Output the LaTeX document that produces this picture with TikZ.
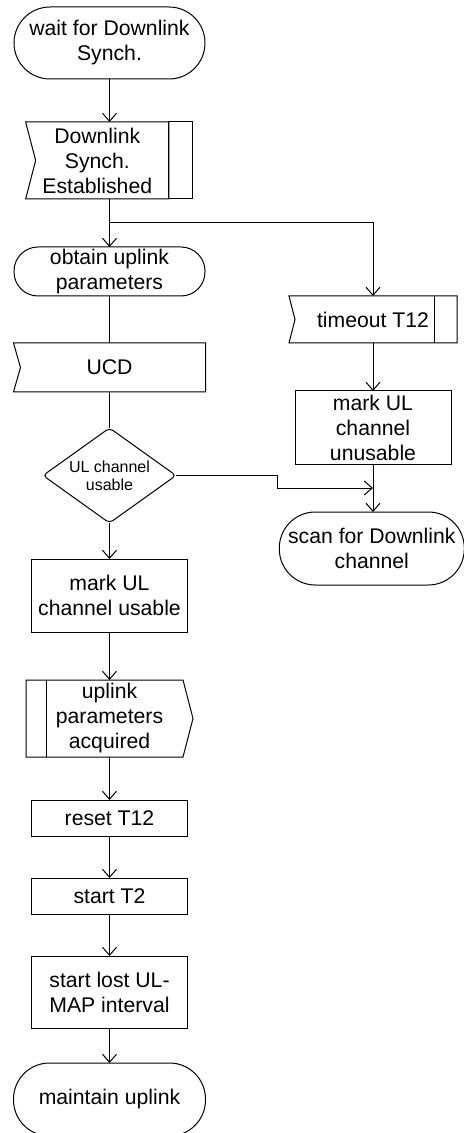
\documentclass[tikz,border=0pt]{standalone}
\usepackage{fontspec}
\setmainfont{Liberation Sans}
\usetikzlibrary{%
    arrows.meta,
    calc,
    positioning,
    shapes.geometric
}
\tikzset{flowarrow/.style = {-{Straight Barb[length=4pt,width=7pt]}}}
% outline of an input signal: notch cut into the west side
\newcommand\inputsig[2]{%
    \draw (#1.north west) -- (#1.north east) -- (#1.south east)
        -- (#1.south west) -- ($(#1.west)+(#2,0)$) -- cycle;}

\begin{document}
\begin{tikzpicture}[
    x=1pt, y=1pt, line width=.5pt,
    base/.style = {font=\fontsize{10.6}{12.5}\selectfont, align=center,
        inner sep=0pt, outer sep=0pt},
    terminal/.style = {base, draw, rounded corners=#1, minimum width=95.5pt},
    task/.style = {base, draw, minimum width=78pt},
    signal/.style = {base, minimum height=38.5pt},
    decision/.style = {base, draw, diamond, aspect=1.4, minimum width=66.5pt,
        minimum height=47.5pt, rounded corners=2pt,
        font=\fontsize{8}{9}\selectfont}]
    \useasboundingbox (0,0) rectangle (232,-566.5);

    % main column
    \node[terminal=18pt, minimum height=36pt] (wait) at (54.75,-21.5)
        {wait for Downlink\\Synch.};
    \node[signal, minimum width=71.65pt] (estab) [below=21.5pt of wait, xshift=-6.1pt]
        {Downlink\\Synch.\\Established};
    \node[terminal=12pt, minimum height=24.5pt] (obtain) [below=24pt of estab, xshift=6.1pt]
        {obtain uplink\\parameters};
    \node[signal, minimum width=96pt, minimum height=24.5pt] (ucd) [below=23.5pt of obtain] {UCD};
    \node[decision] (usable) [below=18pt of ucd] {UL channel\\usable};
    \node[task, minimum height=36.5pt] (markok) [below=18pt of usable] {mark UL\\channel usable};
    \node[signal, minimum width=83.5pt] (acquired) [below=24pt of markok]
        {uplink\\parameters\\acquired};
    \node[task, minimum height=18pt] (reset) [below=21.5pt of acquired] {reset T12};
    \node[task, minimum height=18pt] (startT) [below=21pt of reset] {start T2};
    \node[task, minimum height=36pt] (lostmap) [below=21pt of startT] {start lost UL-\\MAP interval};
    \node[terminal=18pt, minimum height=36.5pt, minimum width=96pt] (maintain) [below=17.5pt of lostmap]
        {maintain uplink};

    % timeout branch
    \node[signal, minimum width=84pt, minimum height=23.5pt] (timeout) at (186.5,-159.75) {timeout T12};
    \node[task, minimum height=36.5pt] (markbad) [below=24pt of timeout] {mark UL\\channel\\unusable};
    \node[terminal=18pt, minimum height=36.5pt, minimum width=92.5pt] (scan) [below=24pt of markbad, xshift=-.6pt]
        {scan for Downlink\\channel};

    % signal outlines
    \inputsig{estab}{5pt}
    \draw (estab.north east) rectangle ($(estab.south east)+(12pt,0)$);
    \inputsig{ucd}{3.5pt}
    \inputsig{timeout}{3pt}
    \draw ($(timeout.north east)-(11.5pt,0)$) -- ($(timeout.south east)-(11.5pt,0)$);
    \draw (acquired.north west) -- ($(acquired.north east)-(5pt,0)$) -- (acquired.east)
        -- ($(acquired.south east)-(5pt,0)$) -- (acquired.south west) -- cycle;
    \draw ($(acquired.north west)+(10pt,0)$) -- ($(acquired.south west)+(10pt,0)$);

    % connectors
    \coordinate (fork) at ($(obtain.north)+(0,12pt)$);
    \coordinate (merge) at ($(markbad.south)!.5!(markbad.south |- scan.north)$);
    \draw[flowarrow] (wait) -- (wait.south |- estab.north);
    \draw[flowarrow] (obtain.north |- estab.south) -- (obtain);
    \draw[flowarrow] (fork) -| (timeout);
    \draw (obtain) -- (ucd);
    \draw (ucd) -- (usable);
    \draw[flowarrow] (usable) -- (markok);
    \draw[flowarrow] (markok) -- (acquired);
    \draw[flowarrow] (acquired) -- (reset);
    \draw[flowarrow] (reset) -- (startT);
    \draw[flowarrow] (startT) -- (lostmap);
    \draw[flowarrow] (lostmap) -- (maintain);
    \draw[flowarrow] (timeout) -- (markbad);
    \draw[flowarrow] (markbad.south) -- (markbad.south |- scan.north);
    \draw[flowarrow] (usable.east) -- ++(50.75pt,0) |- (merge);
\end{tikzpicture}
\end{document}
